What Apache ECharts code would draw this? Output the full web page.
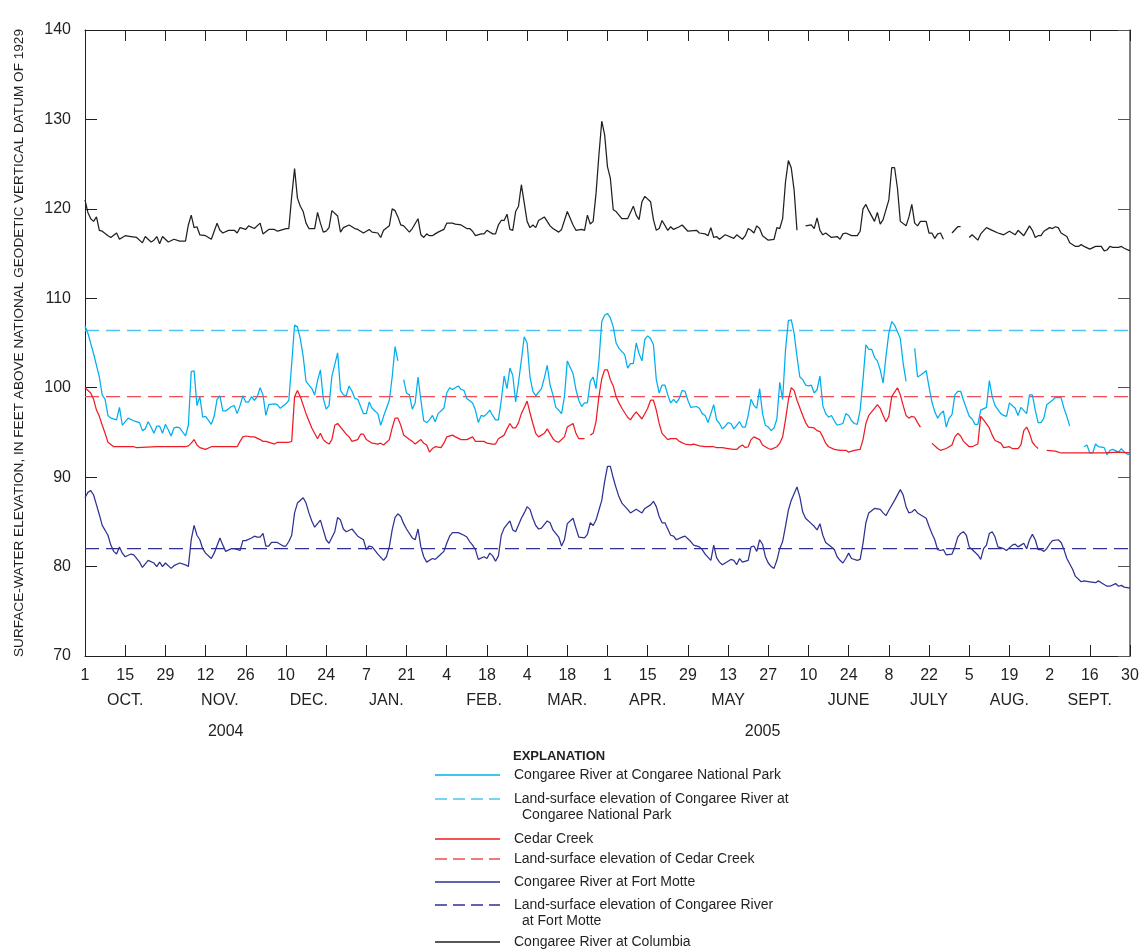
<!DOCTYPE html>
<html>
<head>
<meta charset="utf-8">
<script src="https://cdn.jsdelivr.net/npm/echarts@6/dist/echarts.min.js"></script>
<style>
html,body{margin:0;padding:0;background:#fff;}
#chart{width:1144px;height:951px;}
</style>
</head>
<body>
<div id="chart"></div>
<script>
// ---- Data (day index from Oct 1, 2004; value in feet) ----
const columbia = [[0,121.0],[1,119.6],[2,118.9],[3,118.6],[4,119.1],[5,117.6],[6,117.5],[8,117.0],[9,116.8],[11,117.3],[12,116.6],[14,117.0],[16,116.9],[18,116.8],[20,116.2],[21,116.9],[23,116.3],[24,116.5],[25,116.9],[26,116.1],[27,116.9],[29,116.3],[31,116.6],[33,116.4],[35,116.4],[36,118.2],[37,119.3],[38,117.9],[39,118.0],[40,117.1],[42,117.0],[44,116.6],[46,118.4],[47,117.6],[48,117.3],[50,117.6],[52,117.6],[53,117.3],[54,117.9],[56,117.7],[57,118.1],[59,117.8],[61,118.4],[62,117.2],[64,117.7],[66,117.7],[67,117.5],[68,117.6],[70,117.8],[71,117.8],[72,121.4],[73,124.5],[74,121.2],[75,120.3],[76,119.7],[77,118.4],[78,117.8],[80,117.8],[81,119.6],[82,118.4],[83,117.4],[84,117.5],[85,117.9],[86,119.8],[88,119.2],[89,117.4],[90,117.9],[92,118.2],[94,117.8],[95,117.7],[97,117.3],[99,117.7],[100,117.4],[102,117.3],[103,116.8],[104,117.6],[106,118.1],[107,120.0],[108,119.8],[109,119.1],[110,118.2],[111,118.1],[113,117.4],[114,117.8],[116,118.9],[117,117.1],[118,116.8],[119,117.2],[120,117.0],[121,117.0],[122,117.2],[123,117.4],[125,117.7],[126,118.4],[128,118.4],[129,118.3],[131,118.2],[133,117.8],[134,117.8],[135,117.5],[136,117.0],[138,117.2],[139,117.2],[140,117.6],[142,117.2],[143,117.2],[144,118.2],[145,118.7],[146,118.7],[147,119.4],[148,117.7],[149,117.6],[150,119.7],[151,120.3],[152,122.7],[154,118.6],[155,117.9],[156,118.2],[157,117.9],[158,118.7],[160,119.1],[162,118.1],[163,117.8],[165,117.4],[166,117.7],[168,119.7],[170,118.2],[171,117.6],[173,117.7],[174,117.6],[175,119.3],[176,118.3],[177,118.6],[178,121.7],[179,126.0],[180,129.8],[181,128.3],[182,124.7],[183,123.4],[184,119.9],[185,119.7],[187,118.9],[189,118.9],[191,120.3],[192,119.3],[193,118.8],[194,120.8],[195,121.4],[197,120.8],[198,118.8],[199,117.6],[200,117.8],[201,118.7],[203,117.6],[204,118.0],[205,117.7],[207,118.0],[208,118.2],[210,117.5],[213,117.6],[214,117.3],[216,117.2],[217,117.0],[218,117.9],[219,116.8],[220,116.9],[221,116.6],[223,117.1],[226,116.7],[227,117.1],[229,116.6],[230,117.0],[231,117.8],[232,117.6],[233,117.3],[234,118.1],[235,117.8],[236,117.0],[238,116.5],[240,116.6],[241,117.9],[242,117.8],[243,118.9],[244,123.0],[245,125.4],[246,124.6],[247,122.1],[248,117.6],[249,null],[251,118.1],[253,118.2],[254,117.8],[255,119.0],[256,117.6],[257,117.1],[258,117.3],[260,116.8],[262,116.9],[263,116.6],[264,117.2],[265,117.3],[267,117.0],[269,117.0],[270,117.5],[271,120.0],[272,120.5],[273,119.8],[275,118.6],[276,119.6],[277,118.3],[278,118.8],[280,121.0],[281,124.6],[282,124.6],[283,122.3],[284,118.6],[286,118.1],[287,119.1],[288,120.5],[289,118.4],[290,118.1],[291,118.6],[293,118.6],[294,117.3],[295,117.3],[296,116.7],[297,117.2],[298,117.3],[299,116.6],[300,null],[302,117.3],[304,118.0],[305,118.0],[306,null],[308,116.8],[309,117.1],[311,116.5],[312,117.2],[314,117.9],[316,117.6],[318,117.3],[319,117.2],[320,117.1],[322,117.5],[323,117.3],[324,117.1],[325,117.6],[326,117.3],[327,117.0],[329,118.1],[330,117.6],[331,116.8],[332,117.0],[333,117.0],[334,117.5],[336,117.9],[337,117.8],[338,118.0],[339,117.9],[340,117.3],[342,116.9],[343,116.2],[345,115.8],[346,115.8],[347,116.0],[348,115.8],[350,115.5],[352,115.8],[354,115.8],[355,115.3],[356,115.4],[357,115.8],[358,115.7],[360,115.7],[361,115.8],[362,115.6],[364,115.3]];

const congareeNP = [[0,106.9],[1,106.1],[3,103.8],[4,102.5],[5,101.2],[6,99.2],[7,98.7],[8,96.9],[9,96.6],[11,96.4],[12,97.8],[13,95.8],[14,96.2],[15,96.6],[17,96.3],[19,96.1],[20,95.2],[21,95.4],[22,96.2],[23,95.6],[24,94.9],[25,95.7],[26,95.7],[27,94.9],[28,95.9],[29,95.3],[30,94.6],[31,95.5],[32,95.6],[33,95.5],[35,94.6],[36,95.8],[37,101.8],[38,101.9],[39,98.0],[40,99.0],[41,96.7],[42,96.8],[44,95.9],[45,96.8],[46,98.7],[47,99.1],[48,97.4],[49,97.4],[51,97.9],[52,98.0],[53,97.1],[54,98.0],[55,99.1],[56,98.4],[57,98.4],[58,99.0],[59,98.6],[60,99.0],[61,100.0],[62,99.2],[63,96.9],[64,98.1],[66,98.2],[67,98.1],[68,97.7],[70,98.2],[71,98.6],[72,102.7],[73,107.0],[74,106.8],[75,105.5],[76,103.5],[77,100.7],[79,99.9],[80,99.2],[81,100.8],[82,102.0],[83,98.8],[84,97.6],[85,98.0],[86,101.3],[88,103.9],[89,99.7],[90,99.2],[91,99.1],[92,100.2],[93,99.6],[94,98.8],[95,98.7],[97,97.1],[98,97.1],[99,98.4],[100,97.7],[101,97.4],[102,97.1],[103,95.8],[104,96.8],[106,98.6],[107,101.2],[108,104.6],[109,103.0],[110,null],[111,100.9],[112,99.4],[113,99.2],[114,97.6],[115,98.3],[116,101.2],[117,98.6],[118,96.3],[119,96.1],[120,96.4],[121,96.9],[122,96.2],[123,97.1],[125,97.7],[126,99.4],[127,100.0],[128,99.8],[130,100.2],[131,99.8],[132,99.7],[133,98.8],[135,98.3],[136,97.5],[137,96.1],[138,96.9],[139,96.8],[140,97.1],[141,97.5],[142,96.9],[143,96.4],[144,96.4],[145,98.6],[146,101.3],[147,99.9],[148,102.2],[149,101.4],[150,98.4],[151,100.6],[152,103.1],[153,105.7],[154,105.0],[155,101.2],[156,99.6],[157,99.1],[159,99.9],[160,101.1],[161,102.5],[162,100.3],[163,99.2],[164,97.8],[165,97.5],[166,97.1],[167,99.0],[168,103.0],[170,101.6],[171,99.8],[172,98.6],[173,97.9],[174,98.3],[175,98.3],[176,100.7],[177,101.2],[178,99.9],[179,102.9],[180,107.4],[181,108.1],[182,108.3],[183,107.8],[184,106.8],[185,105.0],[186,104.4],[188,103.7],[189,102.2],[190,102.7],[191,102.7],[192,105.0],[193,103.8],[194,103.0],[195,105.4],[196,105.8],[197,105.5],[198,104.8],[199,100.9],[200,99.4],[201,100.3],[202,100.3],[203,99.2],[204,98.3],[205,98.7],[206,98.3],[207,98.8],[208,99.7],[209,99.6],[210,98.6],[211,97.8],[213,97.9],[214,97.7],[215,97.1],[216,96.9],[217,96.1],[218,97.1],[219,98.1],[220,96.4],[221,96.0],[222,95.4],[223,95.7],[224,96.1],[225,96.0],[226,95.4],[227,95.8],[228,96.2],[229,95.6],[230,95.6],[231,96.9],[232,98.7],[233,98.0],[234,97.7],[235,99.9],[236,97.1],[237,95.8],[238,95.6],[239,95.2],[240,95.5],[241,96.5],[242,100.6],[243,98.7],[244,104.2],[245,107.5],[246,107.6],[247,106.1],[248,103.5],[249,101.2],[250,100.9],[251,100.3],[252,100.2],[253,100.3],[254,99.4],[255,99.8],[256,101.3],[257,98.0],[258,97.1],[259,96.7],[260,96.9],[261,96.3],[262,95.8],[264,96.0],[265,97.1],[266,96.9],[267,96.3],[268,96.0],[269,95.9],[270,97.5],[271,100.9],[272,104.8],[273,104.3],[274,104.3],[275,103.4],[276,103.0],[277,102.0],[278,100.5],[279,103.5],[280,106.1],[281,107.4],[282,107.0],[284,105.5],[285,102.7],[286,100.7],[287,null],[289,104.4],[290,101.2],[291,101.4],[293,101.9],[294,100.1],[295,98.4],[296,97.3],[297,96.6],[298,97.1],[299,97.4],[300,95.6],[301,96.6],[302,97.0],[303,99.2],[304,99.6],[305,99.6],[306,98.6],[308,96.8],[309,96.5],[310,95.9],[311,95.9],[312,97.5],[314,97.8],[315,100.8],[316,99.0],[317,98.0],[319,97.1],[320,96.9],[321,96.8],[322,98.3],[324,97.7],[325,96.9],[326,97.8],[328,97.1],[329,99.2],[330,99.2],[331,97.5],[332,96.1],[333,96.1],[334,96.6],[335,98.1],[337,98.6],[338,98.9],[340,98.9],[341,97.7],[342,96.8],[343,95.7],[344,null],[348,93.4],[349,93.6],[350,92.7],[351,92.7],[352,93.7],[353,93.4],[355,93.3],[356,92.5],[357,93.0],[358,93.1],[360,92.8],[361,93.2],[362,92.8],[363,92.6],[364,92.5]];

const cedarCreek = [[0,100.0],[2,99.4],[3,98.7],[4,97.5],[5,96.8],[6,95.8],[7,94.9],[8,93.9],[10,93.4],[17,93.4],[18,93.3],[25,93.4],[33,93.4],[35,93.4],[36,93.5],[37,93.8],[38,94.2],[39,93.6],[40,93.3],[42,93.1],[44,93.4],[53,93.4],[54,94.0],[55,94.5],[56,94.6],[58,94.5],[59,94.5],[61,94.2],[62,94.0],[63,94.0],[65,93.8],[66,93.7],[67,93.9],[71,93.9],[72,94.0],[73,99.0],[74,99.7],[75,99.0],[77,97.1],[79,95.5],[81,94.3],[82,94.9],[83,94.2],[84,93.9],[85,93.7],[86,94.2],[87,95.8],[88,96.0],[90,95.2],[91,94.8],[92,94.5],[93,94.0],[95,94.2],[96,94.8],[97,94.8],[98,94.2],[100,93.8],[102,93.7],[103,93.8],[104,93.6],[106,94.2],[107,95.5],[108,96.6],[109,96.6],[110,95.8],[111,94.7],[113,94.2],[114,94.0],[115,93.7],[117,94.2],[118,93.8],[119,93.6],[120,92.8],[121,93.2],[122,93.4],[124,93.3],[125,93.8],[126,94.5],[128,94.7],[129,94.5],[131,94.2],[133,94.2],[135,94.5],[136,94.0],[139,94.0],[140,93.8],[142,93.7],[143,93.7],[144,94.3],[146,94.7],[147,95.4],[148,96.0],[149,95.5],[150,95.5],[151,96.1],[152,97.1],[153,97.8],[154,98.5],[155,97.2],[156,96.0],[157,94.9],[158,94.5],[160,94.9],[161,95.4],[163,94.3],[164,94.0],[165,93.9],[167,94.5],[168,95.6],[170,96.0],[171,94.9],[172,94.3],[174,94.3],[175,null],[176,94.7],[177,94.9],[178,96.2],[179,99.0],[180,101.0],[181,102.0],[182,102.0],[183,100.9],[184,100.2],[185,99.0],[186,98.3],[187,97.7],[189,96.7],[190,96.4],[191,96.9],[192,97.3],[194,96.5],[196,97.7],[197,98.6],[198,98.6],[199,97.5],[200,96.0],[201,94.9],[203,94.2],[204,94.3],[206,94.3],[207,94.0],[209,93.7],[211,93.6],[212,93.7],[214,93.5],[216,93.4],[219,93.4],[220,93.3],[222,93.3],[224,93.2],[226,93.1],[227,93.1],[228,93.4],[229,93.6],[230,93.3],[231,93.4],[232,94.2],[233,94.5],[235,94.2],[236,93.6],[238,93.2],[239,93.1],[241,93.4],[242,93.8],[243,94.5],[244,96.4],[245,98.6],[246,100.0],[247,99.7],[248,98.6],[250,96.9],[251,96.1],[252,95.6],[254,95.5],[255,95.2],[256,95.1],[257,94.5],[258,93.8],[259,93.4],[261,93.1],[263,93.0],[265,93.0],[266,92.8],[268,93.0],[270,93.1],[271,94.2],[272,96.0],[273,96.9],[275,97.7],[276,98.1],[277,97.7],[278,96.9],[279,96.2],[280,96.8],[281,99.0],[283,100.0],[284,99.2],[285,98.0],[286,96.9],[287,96.6],[288,96.8],[289,96.7],[290,96.1],[291,95.6],[292,null],[295,93.8],[297,93.2],[298,93.0],[300,93.2],[302,93.6],[303,94.5],[304,94.9],[305,94.6],[306,94.0],[308,93.4],[309,93.4],[311,93.7],[312,96.8],[313,96.4],[315,95.5],[316,94.7],[317,94.1],[319,93.8],[320,93.3],[322,93.4],[323,93.2],[325,93.2],[326,93.6],[327,95.2],[328,95.6],[329,94.9],[330,93.9],[331,93.5],[332,93.2],[333,null],[335,93.0],[338,92.9],[340,92.7],[343,92.7],[347,92.7],[350,92.7],[355,92.7],[360,92.8],[364,92.7]];

const fortMotte = [[0,87.7],[1,88.3],[2,88.5],[3,88.0],[4,86.9],[5,85.8],[6,84.6],[8,83.5],[9,82.4],[10,81.7],[11,81.4],[12,82.2],[13,81.5],[14,81.1],[16,81.4],[17,81.3],[19,80.5],[20,79.9],[22,80.7],[24,80.4],[25,80.0],[26,80.5],[27,80.0],[28,80.4],[30,79.8],[31,80.1],[33,80.4],[35,80.2],[36,80.0],[37,83.0],[38,84.6],[39,83.5],[40,83.0],[41,82.0],[42,81.5],[44,80.9],[45,81.5],[47,83.2],[48,82.4],[49,81.7],[51,82.0],[52,82.0],[54,81.8],[55,82.9],[56,82.9],[58,83.2],[59,83.4],[60,83.3],[61,83.3],[62,83.7],[63,82.3],[64,82.3],[65,82.7],[67,82.7],[69,82.3],[70,82.3],[71,82.8],[72,83.5],[73,86.0],[74,87.1],[76,87.7],[77,87.1],[78,86.0],[79,85.1],[80,84.4],[82,85.2],[83,84.1],[84,83.0],[85,82.6],[87,83.9],[88,85.5],[89,85.2],[90,84.2],[91,83.9],[93,84.2],[94,83.8],[95,83.4],[97,83.0],[98,81.9],[99,82.3],[100,82.2],[101,81.8],[102,81.4],[104,80.7],[105,81.1],[106,82.2],[107,84.1],[108,85.5],[109,85.9],[110,85.6],[111,84.8],[112,84.2],[114,83.2],[115,83.0],[116,84.2],[117,82.2],[118,81.1],[119,80.5],[121,80.9],[122,80.8],[123,81.1],[125,81.7],[126,82.6],[127,83.4],[128,83.8],[130,83.8],[132,83.5],[133,83.3],[134,82.8],[135,82.4],[136,81.9],[137,80.8],[139,81.1],[140,80.9],[141,81.5],[142,81.2],[143,80.6],[144,81.2],[145,83.5],[146,84.3],[148,85.1],[149,84.1],[150,83.9],[152,85.4],[153,86.0],[154,86.7],[155,86.4],[156,85.4],[157,84.6],[158,84.2],[159,84.3],[161,85.1],[162,84.9],[163,84.1],[165,83.3],[166,82.3],[167,83.0],[168,84.8],[170,85.4],[171,84.3],[172,83.3],[174,83.2],[175,83.6],[176,84.9],[177,84.6],[178,85.2],[179,86.3],[180,87.4],[181,89.5],[182,91.2],[183,91.2],[184,89.9],[185,88.8],[186,87.8],[187,87.1],[189,86.4],[190,86.0],[192,86.4],[194,86.0],[195,86.5],[197,86.9],[198,87.3],[199,86.7],[200,85.6],[201,84.9],[202,84.9],[203,84.2],[204,83.5],[205,83.4],[206,83.0],[208,83.3],[209,83.4],[211,82.8],[212,82.4],[214,82.2],[215,81.9],[216,81.4],[218,80.7],[219,82.4],[220,81.0],[221,80.5],[222,80.2],[223,80.4],[225,80.8],[226,80.7],[227,80.2],[228,80.9],[229,80.5],[231,80.7],[232,82.2],[233,82.3],[234,81.7],[235,83.0],[236,82.5],[237,81.1],[238,80.4],[239,80.0],[240,79.8],[241,80.7],[242,82.0],[243,82.8],[244,84.5],[245,86.3],[246,87.4],[248,88.9],[249,87.8],[250,86.1],[251,85.4],[253,84.8],[254,84.5],[255,84.1],[256,84.8],[257,83.5],[258,82.7],[260,82.2],[261,81.9],[262,81.1],[263,80.7],[264,80.4],[265,80.9],[266,81.5],[267,80.9],[269,80.7],[270,80.8],[271,82.6],[272,84.9],[273,86.0],[275,86.5],[277,86.4],[278,86.0],[279,85.7],[280,86.3],[282,87.4],[284,88.6],[285,88.0],[286,86.7],[287,86.0],[288,86.1],[289,86.4],[290,86.0],[292,85.6],[293,85.4],[294,84.5],[295,83.7],[296,83.0],[297,81.9],[298,81.8],[299,81.9],[300,81.3],[302,81.4],[303,82.2],[304,83.3],[305,83.7],[306,83.9],[307,83.5],[308,82.2],[309,81.9],[311,81.3],[312,80.8],[313,82.0],[314,82.4],[315,83.7],[316,83.9],[317,83.3],[318,82.2],[320,82.0],[321,81.8],[323,82.4],[324,82.5],[325,82.2],[326,82.4],[327,82.6],[328,82.0],[329,83.0],[330,83.6],[331,83.0],[332,81.9],[333,81.9],[334,81.7],[335,82.0],[336,82.5],[337,82.9],[339,83.0],[340,82.7],[341,81.9],[342,80.9],[344,79.7],[345,78.9],[347,78.3],[348,78.4],[350,78.3],[352,78.2],[353,78.4],[354,78.2],[356,77.8],[357,77.8],[359,78.1],[360,77.8],[361,77.9],[362,77.7],[364,77.6]];

const landCongareeNP = 106.4;
const landCedarCreek = 99.0;
const landFortMotte = 82.0;

const yTicks = [70, 80, 90, 100, 110, 120, 130, 140];
const monthNames = ['OCT.','NOV.','DEC.','JAN.','FEB.','MAR.','APR.','MAY','JUNE','JULY','AUG.','SEPT.'];
const monthLabelDays = [14, 47, 78, 105, 139, 168, 196, 224, 266, 294, 322, 350];
const yearNames = ['2004', '2005'];
const yearLabelDays = [49, 236];
const lastDay = 364;

const legendItems = [
  ['Congaree River at Congaree National Park', ''],
  ['Land-surface elevation of Congaree River at', 'Congaree National Park'],
  ['Cedar Creek', ''],
  ['Land-surface elevation of Cedar Creek', ''],
  ['Congaree River at Fort Motte', ''],
  ['Land-surface elevation of Congaree River', 'at Fort Motte'],
  ['Congaree River at Columbia', '']
];

// ---- Styling ----
const FONT = "'Liberation Sans Narrow','Arial Narrow','Liberation Sans',sans-serif";
const INK = '#231f20';
const C_CYAN = '#00aeef', C_CYAN_D = '#4fc3f2';
const C_RED = '#ed1c24', C_RED_D = '#ef4b50';
const C_NAVY = '#2e3192', C_NAVY_D = '#2e3192';
const C_BLACK = '#231f20';
const legendStyles = [
  [C_CYAN, 'solid'], [C_CYAN_D, 'dashed'], [C_RED, 'solid'], [C_RED_D, 'dashed'],
  [C_NAVY, 'solid'], [C_NAVY_D, 'dashed'], [C_BLACK, 'solid']
];
const legendY = [775, 799, 839, 859, 882, 905, 942];

const startUTC = Date.UTC(2004, 9, 1);
function dayOfMonth(v){ return String(new Date(startUTC + v * 86400000).getUTCDate()); }

const baseX = {
  type: 'value', min: 0, max: lastDay, interval: 14, gridIndex: 0,
  splitLine: {show: false}
};

const chart = echarts.init(document.getElementById('chart'), null, {renderer: 'canvas'});

function lineSeries(name, data, color, dashed){
  return {
    name, type: 'line', data, showSymbol: false, symbol: 'none',
    connectNulls: false, animation: false, silent: true,
    lineStyle: {color, width: dashed ? 1.3 : 1.25, type: dashed ? [14, 7] : 'solid'},
    z: dashed ? 1 : 2
  };
}

const graphics = [{
  type: 'text', left: 513, top: 750,
  style: {text: 'EXPLANATION', font: 'bold 13px ' + FONT, fill: INK}
}];
legendItems.forEach((it, i) => {
  const y = legendY[i];
  const [col, kind] = legendStyles[i];
  graphics.push({
    type: 'line', shape: {x1: 435, y1: y, x2: 500, y2: y},
    style: {stroke: col, lineWidth: 1.3, lineDash: kind === 'dashed' ? [12, 6] : null}
  });
  graphics.push({
    type: 'text', x: 514, y: y, style: {text: it[0], font: '14px ' + FONT, fill: INK, textVerticalAlign: 'middle'}
  });
  if (it[1]) {
    graphics.push({
      type: 'text', x: 522, y: y + 16, style: {text: it[1], font: '14px ' + FONT, fill: INK, textVerticalAlign: 'middle'}
    });
  }
});

chart.setOption({
  animation: false,
  backgroundColor: '#fff',
  grid: {left: 85, right: 14, top: 30, bottom: 295, containLabel: false, outerBoundsMode: 'none'},
  xAxis: [
    Object.assign({}, baseX, {
      position: 'bottom',
      axisLine: {show: true, onZero: false, lineStyle: {color: INK, width: 1}},
      axisTick: {show: true, inside: true, length: 11, lineStyle: {color: INK, width: 1}},
      axisLabel: {show: true, margin: 12, color: INK, fontSize: 16, fontFamily: FONT,
        showMinLabel: true, showMaxLabel: true, formatter: dayOfMonth}
    }),
    Object.assign({}, baseX, {
      position: 'top',
      axisLine: {show: true, onZero: false, lineStyle: {color: INK, width: 1}},
      axisTick: {show: true, inside: true, length: 11, lineStyle: {color: INK, width: 1}},
      axisLabel: {show: false}
    }),
    Object.assign({}, baseX, {
      position: 'bottom', offset: 25,
      axisLine: {show: false}, axisTick: {show: false},
      axisLabel: {show: true, margin: 12, color: INK, fontSize: 16, fontFamily: FONT,
        customValues: monthLabelDays,
        formatter: v => monthNames[monthLabelDays.indexOf(Math.round(v))] || ''}
    }),
    Object.assign({}, baseX, {
      position: 'bottom', offset: 56,
      axisLine: {show: false}, axisTick: {show: false},
      axisLabel: {show: true, margin: 12, color: INK, fontSize: 16, fontFamily: FONT,
        customValues: yearLabelDays,
        formatter: v => yearNames[yearLabelDays.indexOf(Math.round(v))] || ''}
    })
  ],
  yAxis: [
    {
      type: 'value', min: yTicks[0], max: yTicks[yTicks.length - 1], interval: 10, position: 'left',
      name: 'SURFACE-WATER ELEVATION, IN FEET ABOVE NATIONAL GEODETIC VERTICAL DATUM OF 1929',
      nameLocation: 'middle', nameGap: 59, nameRotate: 90,
      nameTextStyle: {color: INK, fontSize: 13.6, fontFamily: FONT},
      axisLine: {show: true, onZero: false, lineStyle: {color: INK, width: 1}},
      axisTick: {show: true, inside: true, length: 12, lineStyle: {color: INK}},
      axisLabel: {color: INK, fontSize: 16, fontFamily: FONT, margin: 14},
      splitLine: {show: false}
    },
    {
      type: 'value', min: yTicks[0], max: yTicks[yTicks.length - 1], interval: 10, position: 'right',
      axisLine: {show: true, onZero: false, lineStyle: {color: '#555', width: 1.5}},
      axisTick: {show: true, inside: true, length: 12, lineStyle: {color: '#555'}},
      axisLabel: {show: false},
      splitLine: {show: false}
    }
  ],
  series: [
    lineSeries('Land-surface elevation of Congaree River at Congaree National Park', [[0, landCongareeNP], [lastDay, landCongareeNP]], C_CYAN_D, true),
    lineSeries('Land-surface elevation of Cedar Creek', [[0, landCedarCreek], [lastDay, landCedarCreek]], C_RED_D, true),
    lineSeries('Land-surface elevation of Congaree River at Fort Motte', [[0, landFortMotte], [lastDay, landFortMotte]], C_NAVY_D, true),
    lineSeries('Congaree River at Columbia', columbia, C_BLACK, false),
    lineSeries('Congaree River at Congaree National Park', congareeNP, C_CYAN, false),
    lineSeries('Cedar Creek', cedarCreek, C_RED, false),
    lineSeries('Congaree River at Fort Motte', fortMotte, C_NAVY, false)
  ],
  graphic: graphics
});
</script>
</body>
</html>
